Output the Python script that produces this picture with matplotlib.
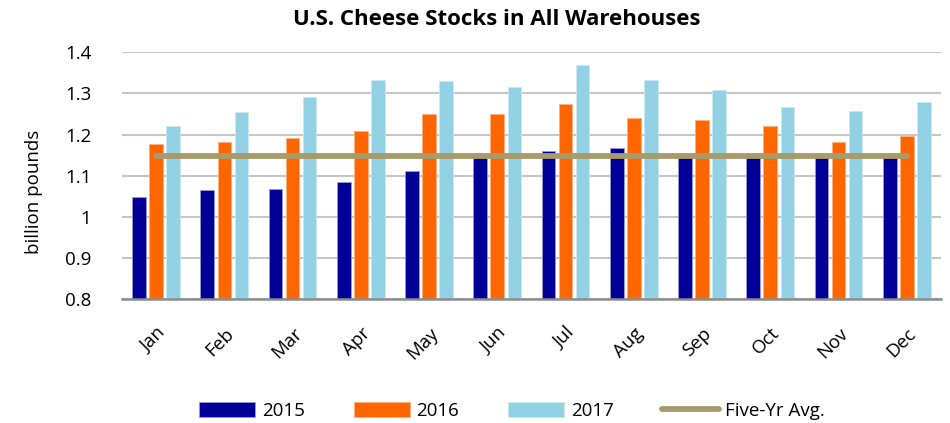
import matplotlib.pyplot as plt
import numpy as np

plt.rcParams['font.family'] = ['Open Sans', 'DejaVu Sans']

# Data
months = ['Jan', 'Feb', 'Mar', 'Apr', 'May', 'Jun', 'Jul', 'Aug', 'Sep', 'Oct', 'Nov', 'Dec']
stocks_2015 = [1.048, 1.066, 1.068, 1.085, 1.111, 1.147, 1.161, 1.167, 1.146, 1.146, 1.146, 1.147]
stocks_2016 = [1.177, 1.181, 1.191, 1.209, 1.249, 1.250, 1.274, 1.240, 1.235, 1.222, 1.182, 1.197]
stocks_2017 = [1.221, 1.255, 1.291, 1.332, 1.329, 1.316, 1.368, 1.333, 1.308, 1.267, 1.258, 1.280]
five_yr_avg = [1.149] * 12
yticks = [0.8, 0.9, 1.0, 1.1, 1.2, 1.3, 1.4]
ytick_labels = ['0.8', '0.9', '1', '1.1', '1.2', '1.3', '1.4']

c15, c16, c17, cavg = '#000099', '#FF6600', '#92D1E3', '#A89A6A'

fig = plt.figure(figsize=(9.5, 4.23), dpi=100)
ax = fig.add_axes([0.1284, 0.2925, 0.862, 0.584])

x = np.arange(len(months))
w = 0.2
b15 = ax.bar(x - 0.25, stocks_2015, w, color=c15, edgecolor='#9a9ad0', linewidth=0.6, label='2015', zorder=2)
b16 = ax.bar(x, stocks_2016, w, color=c16, edgecolor='#ffb080', linewidth=0.6, label='2016', zorder=2)
b17 = ax.bar(x + 0.25, stocks_2017, w, color=c17, edgecolor='#c8eaf3', linewidth=0.6, label='2017', zorder=2)
avg, = ax.plot(x, five_yr_avg, color=cavg, linewidth=4.2, solid_capstyle='round', label='Five-Yr Avg.', zorder=3)

ax.set_xlim(-0.5, 11.5)
ax.set_ylim(0.8, 1.4)
ax.set_yticks(yticks)
ax.set_yticklabels(ytick_labels)
ax.grid(axis='y', color='#c6c6c6', linewidth=1.5, zorder=0)
ax.set_axisbelow(True)
for s in ['left', 'right', 'top']:
    ax.spines[s].set_visible(False)
ax.spines['bottom'].set_color('#8c8c8c')
ax.spines['bottom'].set_linewidth(1.8)
ax.spines['bottom'].set_zorder(4)

ax.set_xticks(x)
ax.set_xticklabels(months, rotation=45, ha='right', rotation_mode='anchor')
ax.tick_params(axis='x', length=0, pad=18, labelsize=13.5)
ax.tick_params(axis='y', length=0, pad=22, labelsize=13.5)

ax.set_ylabel('billion pounds', fontsize=13.5)
ax.yaxis.set_label_coords(-0.097, 0.435)

fig.text(0.523, 0.953, 'U.S. Cheese Stocks in All Warehouses', ha='center', va='center',
         fontsize=16, fontweight='bold')

fig.legend([b15, b16, b17, avg], ['2015', '2016', '2017', 'Five-Yr Avg.'],
           loc='center', bbox_to_anchor=(0.539, 0.028), ncol=4, frameon=False,
           fontsize=13.5, handlelength=3.0, handleheight=0.8, handletextpad=0.35,
           columnspacing=2.6)

plt.savefig('out.png', dpi=100)
